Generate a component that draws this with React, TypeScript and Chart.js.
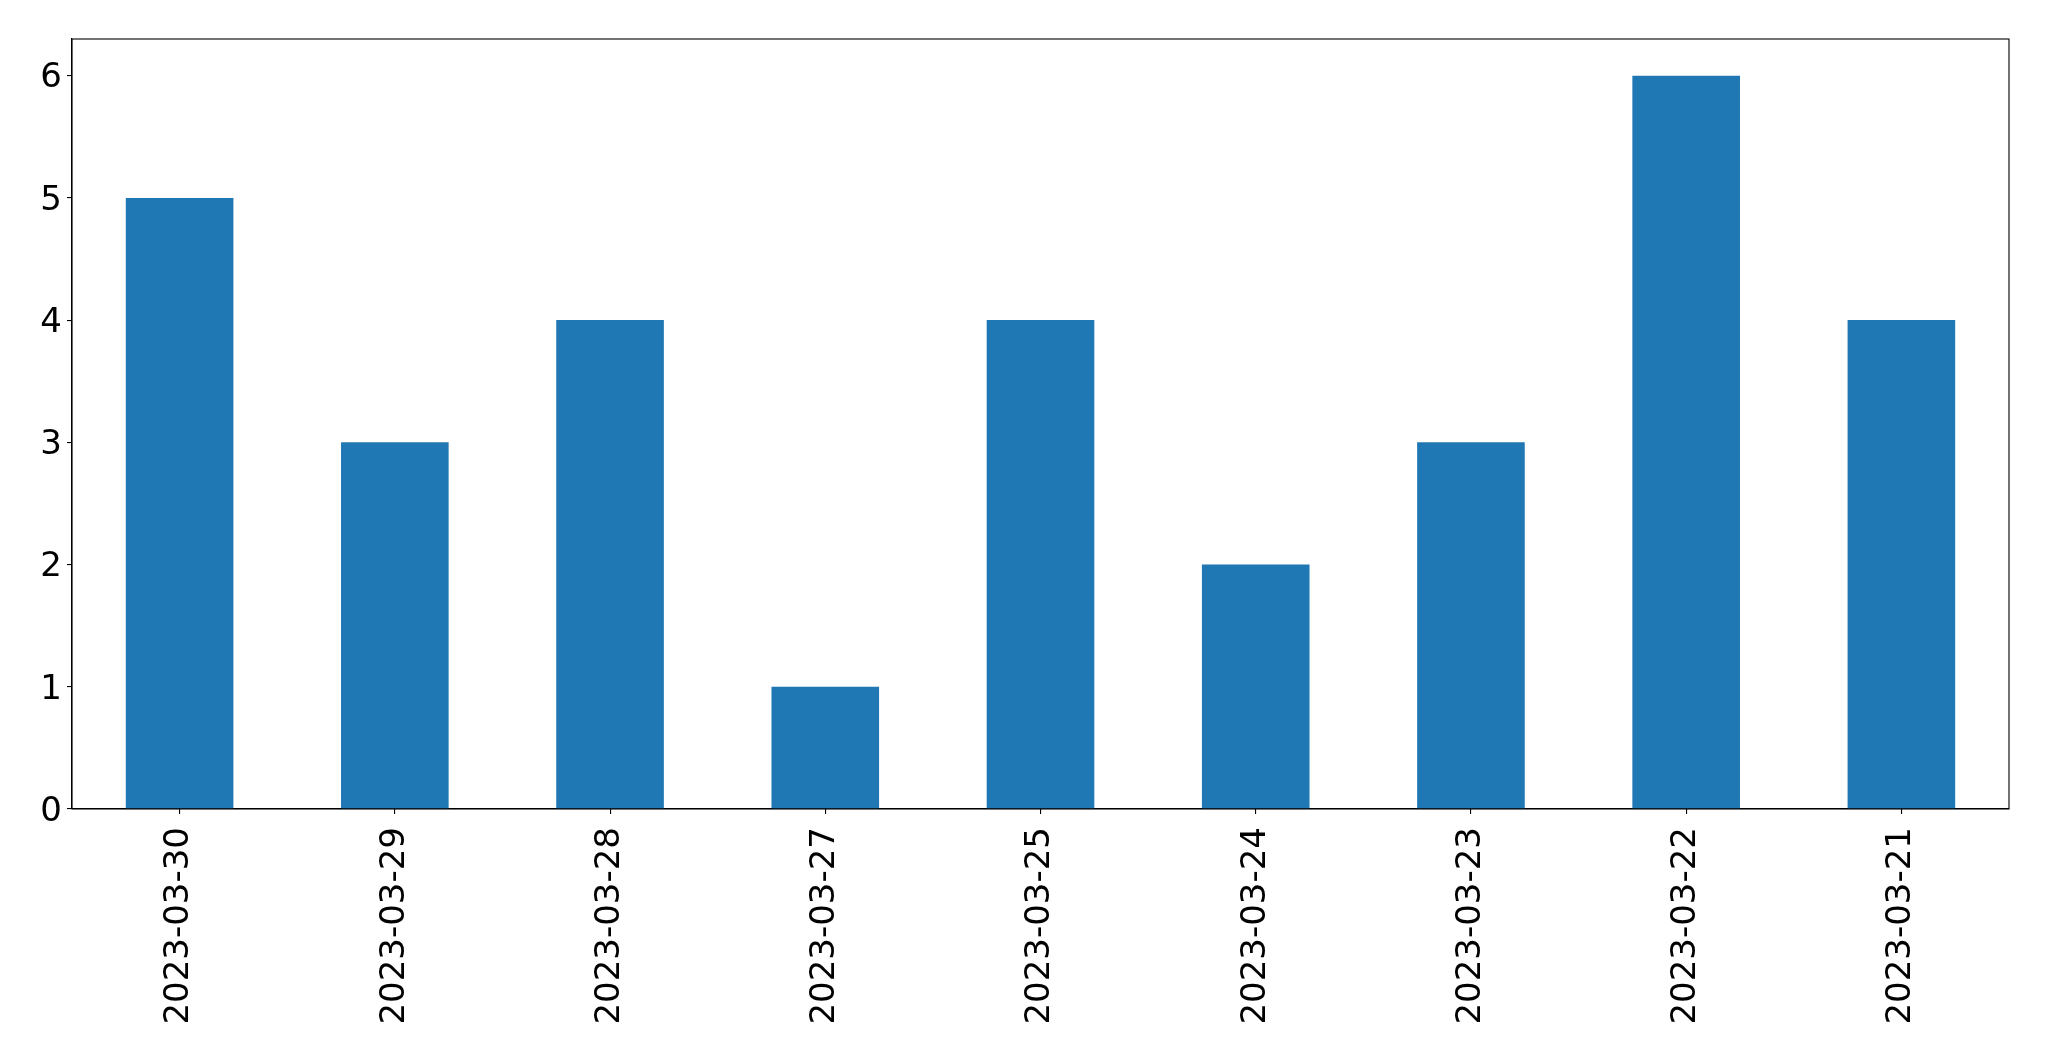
import React, { useEffect, useRef } from "react";
import { Chart, registerables } from "chart.js";

Chart.register(...registerables);

const categories = [
  "2023-03-30",
  "2023-03-29",
  "2023-03-28",
  "2023-03-27",
  "2023-03-25",
  "2023-03-24",
  "2023-03-23",
  "2023-03-22",
  "2023-03-21",
];
const counts = [5, 3, 4, 1, 4, 2, 3, 6, 4];
const yMin = 0;
const yMax = 6.3;
const yStep = 1;

const W = 2049;
const H = 1061;
const AREA = { left: 72, top: 39, right: 2009, bottom: 809 };

const frame = {
  id: "frame",
  afterDraw(chart: any) {
    const { ctx, chartArea } = chart;
    ctx.save();
    ctx.strokeStyle = "#000";
    ctx.lineWidth = 1.1;
    ctx.strokeRect(
      chartArea.left,
      chartArea.top,
      chartArea.right - chartArea.left,
      chartArea.bottom - chartArea.top
    );
    ctx.restore();
  },
};

export default function App() {
  const ref = useRef<HTMLCanvasElement>(null);
  useEffect(() => {
    document.body.style.margin = "0";
    const font = { family: "'DejaVu Sans'", size: 34 };
    const chart = new Chart(ref.current!, {
      type: "bar",
      data: {
        labels: categories,
        datasets: [
          {
            data: counts,
            backgroundColor: "#1f77b4",
            categoryPercentage: 1,
            barPercentage: 0.5,
          },
        ],
      },
      options: {
        animation: false,
        responsive: false,
        devicePixelRatio: 1,
        layout: {
          padding: { left: 0, top: AREA.top, right: W - AREA.right, bottom: 0 },
        },
        plugins: { legend: { display: false }, tooltip: { enabled: false } },
        scales: {
          x: {
            afterFit(scale: any) {
              scale.height = H - AREA.bottom;
            },
            grid: {
              display: true,
              offset: false,
              drawOnChartArea: false,
              drawTicks: true,
              tickLength: 5,
              color: "#000",
              lineWidth: 1.1,
            },
            border: { display: true, color: "#000", width: 1.1 },
            ticks: {
              color: "#000",
              font,
              minRotation: 90,
              maxRotation: 90,
              padding: 13,
              autoSkip: false,
            },
          },
          y: {
            min: yMin,
            max: yMax,
            afterFit(scale: any) {
              scale.width = AREA.left;
            },
            grid: {
              display: true,
              drawOnChartArea: false,
              drawTicks: true,
              tickLength: 5,
              color: "#000",
              lineWidth: 1.1,
            },
            border: { display: true, color: "#000", width: 1.1 },
            ticks: {
              stepSize: yStep,
              includeBounds: false,
              color: "#000",
              font,
              padding: 5,
              labelOffset: 3,
            },
          },
        },
      },
      plugins: [frame],
    });
    return () => chart.destroy();
  }, []);
  return (
    <div style={{ position: "absolute", left: 0, top: 0, width: W, height: H, background: "#fff" }}>
      <canvas ref={ref} width={W} height={H} style={{ width: W, height: H, display: "block" }} />
    </div>
  );
}
